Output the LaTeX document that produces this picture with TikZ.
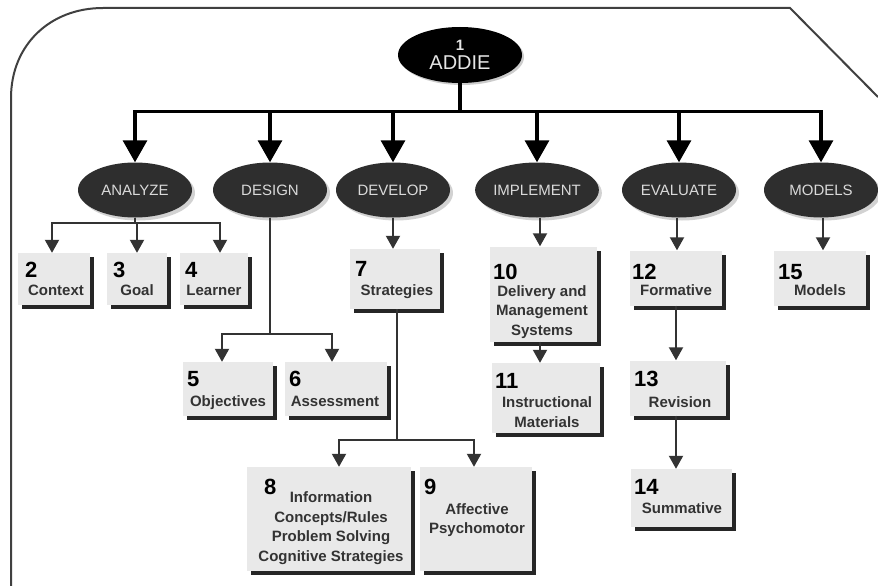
\documentclass[tikz,border=0pt]{standalone}
\usepackage{fontspec}
\setmainfont{Liberation Sans}
\usetikzlibrary{shapes.geometric,arrows.meta,shadows}
\definecolor{ellgray}{HTML}{2E2E2E}
\definecolor{boxgray}{HTML}{E9E9E9}
\definecolor{txtgray}{HTML}{333333}
\definecolor{elltxt}{HTML}{DADADA}
\tikzset{
  topnode/.style={ellipse, fill=black, minimum width=124pt, minimum height=56pt, inner sep=0pt,
    text=white!90!black, align=center, font=\fontsize{20}{20}\selectfont,
    drop shadow={shadow xshift=2pt, shadow yshift=-2pt, opacity=0.4}},
  phase/.style={ellipse, fill=ellgray, minimum width=114pt, minimum height=55pt, inner sep=0pt,
    text=elltxt, font=\fontsize{15}{17}\selectfont,
    drop shadow={shadow xshift=3pt, shadow yshift=-3pt, opacity=0.35}},
  stepbox/.style={rectangle, fill=boxgray, inner sep=0pt,
    drop shadow={shadow xshift=4pt, shadow yshift=-4pt, fill=black, opacity=0.85}},
  numtxt/.style={anchor=base west, inner sep=0pt, font=\fontsize{22}{22}\bfseries\selectfont, text=black},
  lbltxt/.style={inner sep=0pt, font=\fontsize{15}{19.5}\bfseries\selectfont, text=txtgray, align=center},
  bigarrow/.style={line width=3.3pt, -{Triangle[width=24pt,length=22pt]}},
  smallarrow/.style={line width=2pt, draw=txtgray, -{Triangle[width=14pt,length=13pt]}},
  frame/.style={line width=2pt, draw=black!75}
}
\begin{document}
\begin{tikzpicture}[x=1pt,y=-1pt]
\useasboundingbox (0,0) rectangle (878,586);
\fill[white] (0,0) rectangle (878,586);
% frame
\draw[frame] (11,586) -- (11,98) .. controls (11,45) and (50,8) .. (103,8) -- (790,8) -- (878,97);

% top node
\node[topnode] (addie) at (460,55) {{\fontsize{15}{15}\bfseries\selectfont 1}\\[-1pt]ADDIE};

% phases
\node[phase] (analyze) at (135,190) {ANALYZE};
\node[phase] (design) at (270,190) {DESIGN};
\node[phase] (develop) at (393,190) {DEVELOP};
\node[phase] (implement) at (537,190) {IMPLEMENT};
\node[phase] (evaluate) at (679,190) {EVALUATE};
\node[phase] (models) at (821,190) {MODELS};

% level 1 connectors
\foreach \n in {analyze,design,develop,implement,evaluate,models}
  \draw[bigarrow] (addie.south) -- ++(0,28) -| (\n.north);

% boxes
\node[stepbox, minimum width=72pt, minimum height=52pt] (b2) at (54,279) {};
\node[stepbox, minimum width=60pt, minimum height=52pt] (b3) at (137,279) {};
\node[stepbox, minimum width=68pt, minimum height=52pt] (b4) at (214,279) {};
\node[stepbox, minimum width=90pt, minimum height=54pt] (b5) at (228,389) {};
\node[stepbox, minimum width=102pt, minimum height=54pt] (b6) at (336,389) {};
\node[stepbox, minimum width=90pt, minimum height=60pt] (b7) at (395,279) {};
\node[stepbox, minimum width=164pt, minimum height=104pt] (b8) at (329,519) {};
\node[stepbox, minimum width=112pt, minimum height=104pt] (b9) at (476,519) {};
\node[stepbox, minimum width=107pt, minimum height=95pt] (b10) at (543,294) {};
\node[stepbox, minimum width=108pt, minimum height=70pt] (b11) at (546,398) {};
\node[stepbox, minimum width=92pt, minimum height=55pt] (b12) at (676,278) {};
\node[stepbox, minimum width=96pt, minimum height=55pt] (b13) at (678,388) {};
\node[stepbox, minimum width=101pt, minimum height=58pt] (b14) at (681,498) {};
\node[stepbox, minimum width=92pt, minimum height=55pt] (b15) at (820,278) {};

% numbers
\node[numtxt] (n2) at (25,277) {2};
\node[numtxt] (n3) at (113,277) {3};
\node[numtxt] (n4) at (185,277) {4};
\node[numtxt] (n5) at (187,386) {5};
\node[numtxt] (n6) at (289,386) {6};
\node[numtxt] (n7) at (355,276) {7};
\node[numtxt] (n8) at (264,494) {8};
\node[numtxt] (n9) at (424,494) {9};
\node[numtxt] (n10) at (493,279) {10};
\node[numtxt] (n11) at (495,388) {11};
\node[numtxt] (n12) at (632,279) {12};
\node[numtxt] (n13) at (634,386) {13};
\node[numtxt] (n14) at (634,494) {14};
\node[numtxt] (n15) at (778,279) {15};

% labels
\node[lbltxt, anchor=base] (l2) at (56,295) {Context};
\node[lbltxt, anchor=base] (l3) at (137,295) {Goal};
\node[lbltxt, anchor=base] (l4) at (214,295) {Learner};
\node[lbltxt, anchor=base] (l5) at (228,406) {Objectives};
\node[lbltxt, anchor=base] (l6) at (335,406) {Assessment};
\node[lbltxt, anchor=base] (l7) at (397,295) {Strategies};
\node[lbltxt] (l8) at (331,528) {Information\\Concepts/Rules\\Problem Solving\\Cognitive Strategies};
\node[lbltxt] (l9) at (477,520) {Affective\\Psychomotor};
\node[lbltxt] (l10) at (542,312) {Delivery and\\Management\\Systems};
\node[lbltxt] (l11) at (547,412) {Instructional\\Materials};
\node[lbltxt, anchor=base] (l12) at (676,295) {Formative};
\node[lbltxt, anchor=base] (l13) at (680,407) {Revision};
\node[lbltxt, anchor=base] (l14) at (682,513) {Summative};
\node[lbltxt, anchor=base] (l15) at (820,295) {Models};

% analyze children
\draw[smallarrow] (analyze.south) -- ++(0,5) -| ([xshift=-2pt]b2.north);
\draw[smallarrow] (analyze.south) -- ++(0,5) -| (b3.north);
\draw[smallarrow] (analyze.south) -- ++(0,5) -| ([xshift=6pt]b4.north);
% design children
\draw[smallarrow] (design.south) -- ++(0,116) -| ([xshift=-6pt]b5.north);
\draw[smallarrow] (design.south) -- ++(0,116) -| ([xshift=-4pt]b6.north);
% develop
\draw[smallarrow] (develop.south) -- (develop.south |- b7.north);
\draw[smallarrow] ([xshift=2pt]b7.south) -- ++(0,131) -| ([xshift=10pt]b8.north);
\draw[smallarrow] ([xshift=2pt]b7.south) -- ++(0,131) -| ([xshift=-2pt]b9.north);
% implement
\draw[smallarrow] ([xshift=3pt]implement.south) -- ([xshift=3pt]implement.south |- b10.north);
\draw[smallarrow] ([xshift=-3pt]b10.south) -- ([xshift=-3pt]b10.south |- b11.north);
% evaluate
\draw[smallarrow] ([xshift=-2pt]evaluate.south) -- ([xshift=-2pt]evaluate.south |- b12.north);
\draw[smallarrow] (b12.south) -- (b12.south |- b13.north);
\draw[smallarrow] ([xshift=-2pt]b13.south) -- ([xshift=-2pt]b13.south |- b14.north);
% models
\draw[smallarrow] ([xshift=2pt]models.south) -- ([xshift=2pt]models.south |- b15.north);
\end{tikzpicture}
\end{document}
